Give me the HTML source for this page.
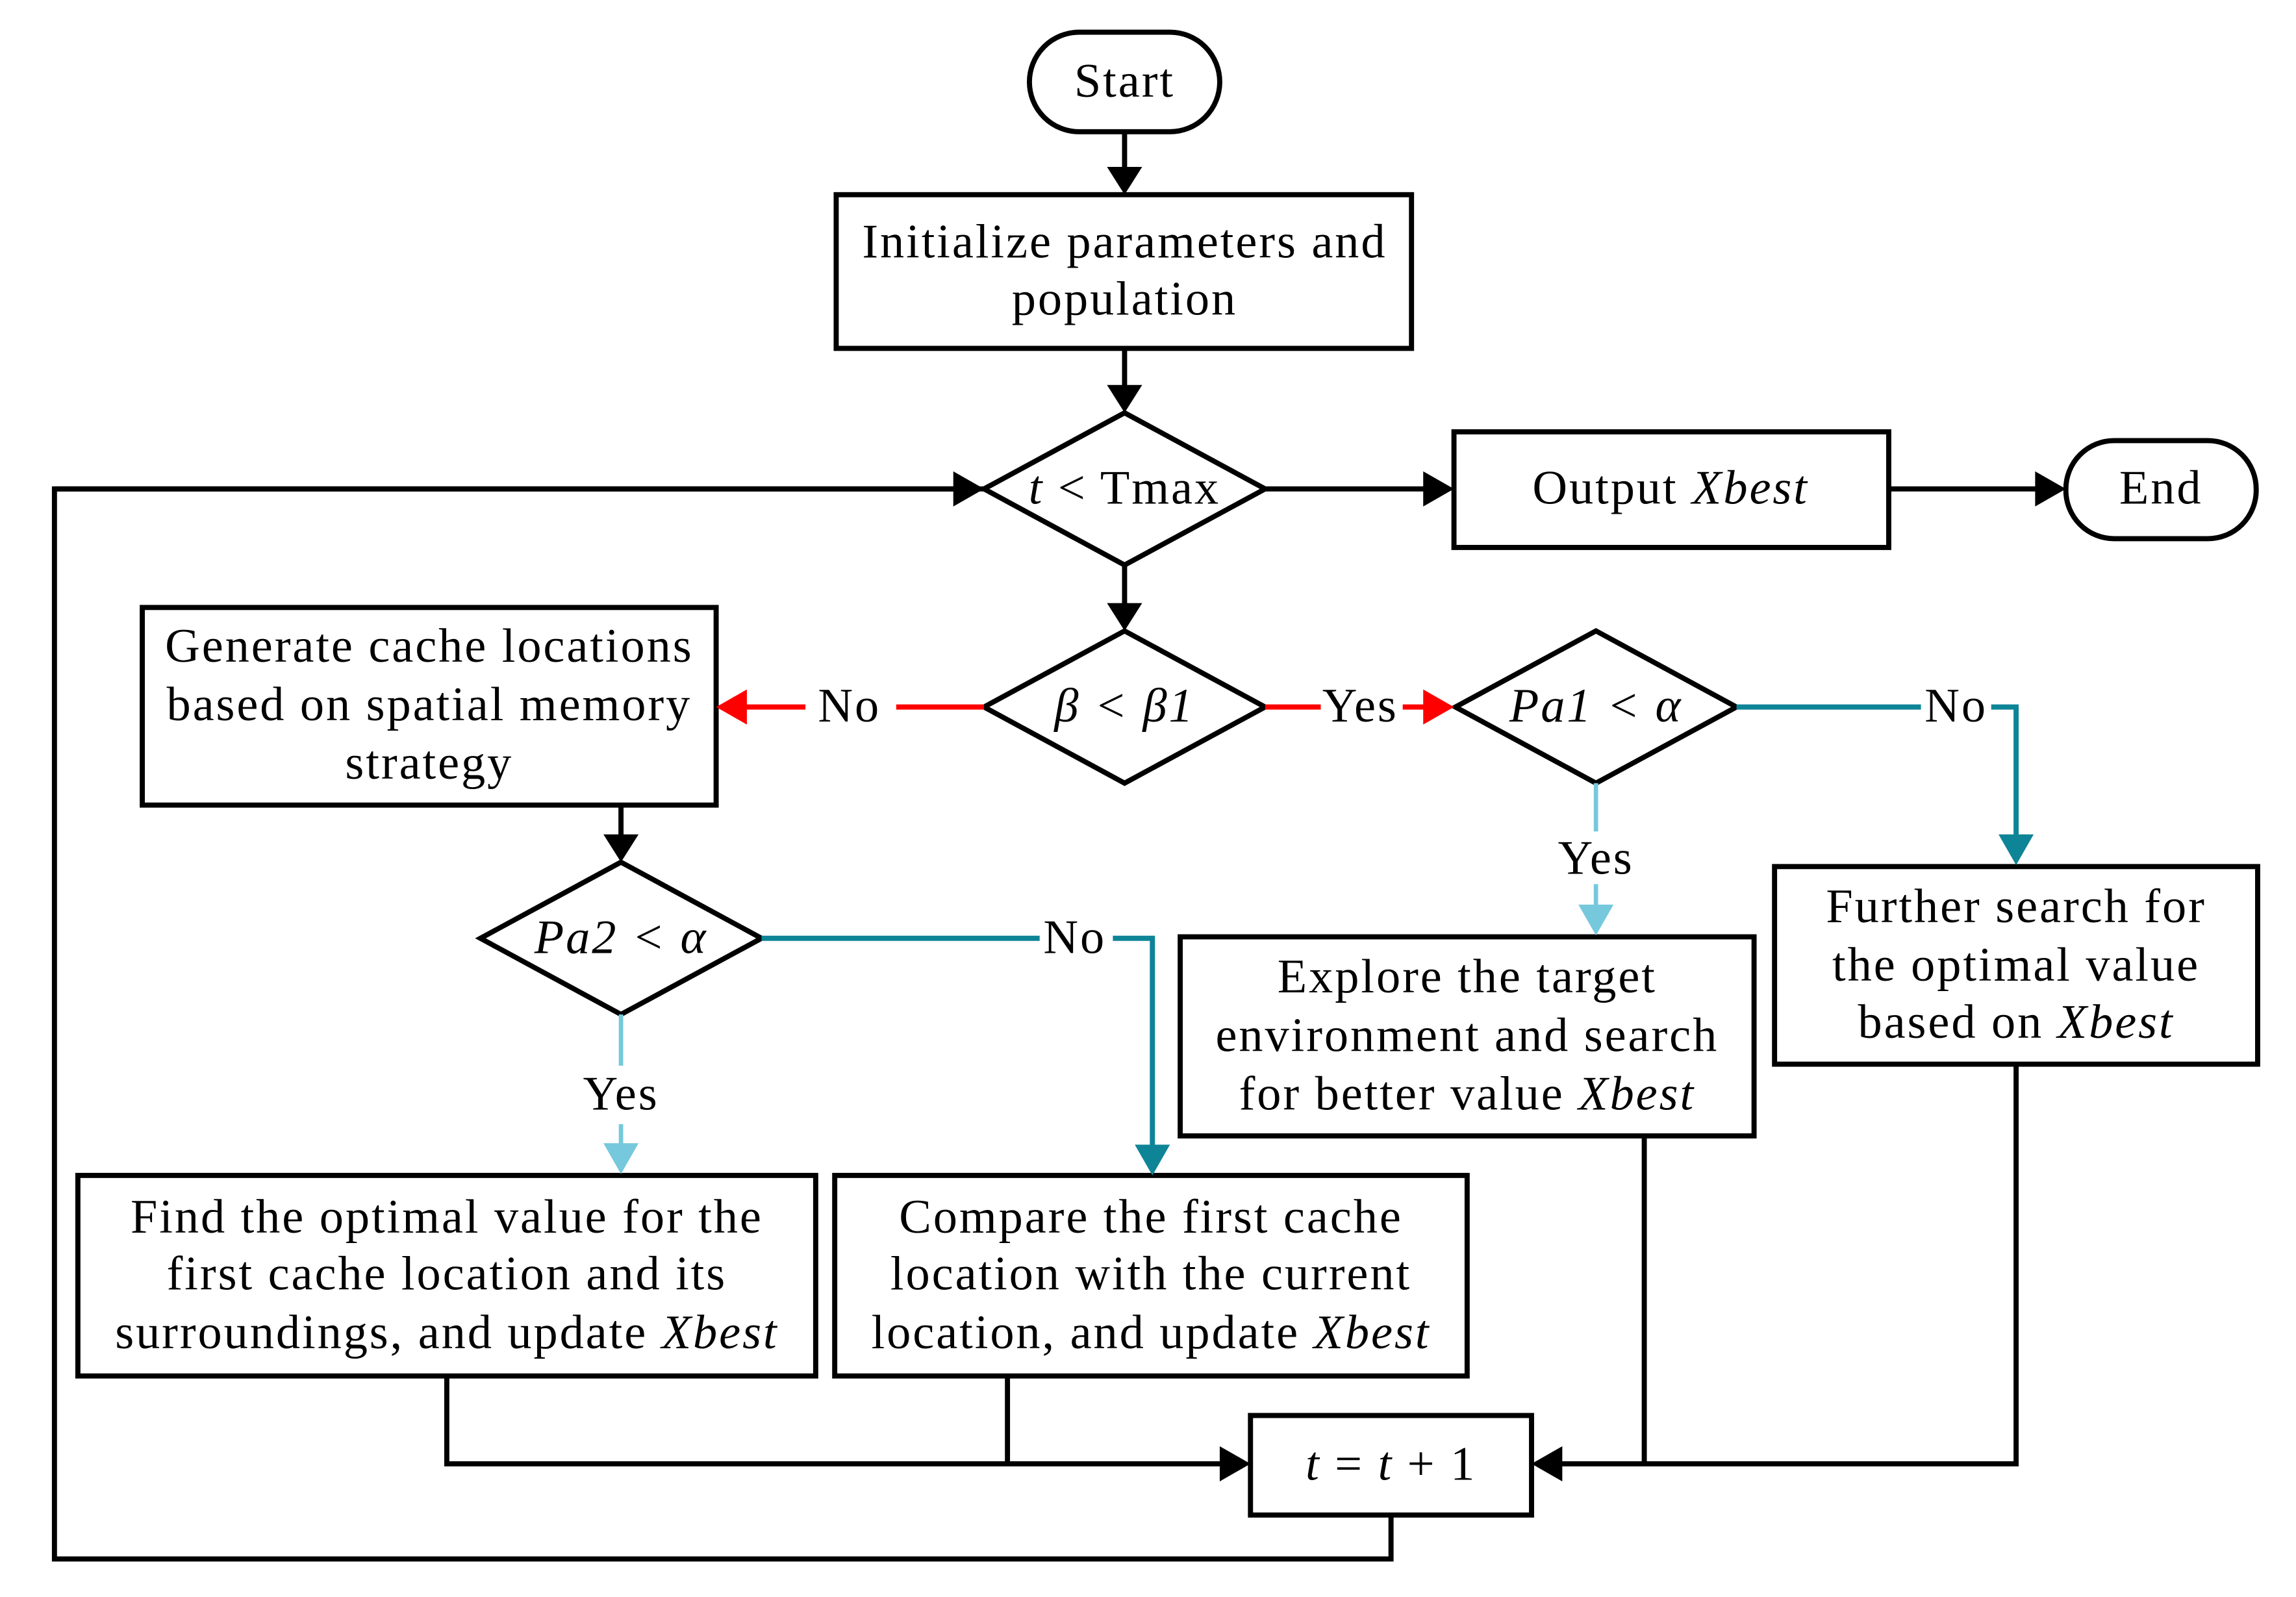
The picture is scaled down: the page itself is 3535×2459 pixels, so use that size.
<!DOCTYPE html>
<html><head><meta charset="utf-8"><style>
html,body{margin:0;padding:0;background:#fff;}
svg{display:block;}
text{font-family:"Liberation Serif",serif;font-size:33px;letter-spacing:1.3px;fill:#000;}
.it{font-style:italic;}
</style></head><body>
<svg width="3535" height="2459" viewBox="0 0 1568 1091" xmlns="http://www.w3.org/2000/svg">
<g fill="none" stroke="#000" stroke-width="3.5">
<rect x="703" y="22" width="130" height="68" rx="34"/>
<rect x="571" y="133" width="393" height="105"/>
<polygon points="768,282 864,334 768,386 672,334"/>
<rect x="993" y="295" width="297" height="79"/>
<rect x="1411" y="301" width="130" height="67" rx="33"/>
<polygon points="768,431 864,483 768,535 672,483"/>
<rect x="97" y="415" width="392" height="135"/>
<polygon points="1090,431 1186,483 1090,535 994,483"/>
<rect x="1212" y="592" width="330" height="135"/>
<rect x="806" y="640" width="392" height="136"/>
<polygon points="424,589 520,641 424,693 328,641"/>
<rect x="53" y="803" width="504" height="137"/>
<rect x="570" y="803" width="432" height="137"/>
<rect x="854" y="967" width="192" height="68"/>
<path d="M768,90 V116"/><path d="M768,238 V265"/><path d="M768,386 V414"/>
<path d="M864,334 H975"/><path d="M1290,334 H1393"/>
<path d="M672,334 H37 V1065 H950 V1035"/>
<path d="M37,334 H655"/>
<path d="M424,550 V572"/>
<path d="M305,940 V1000 H836"/><path d="M688,940 V1000"/>
<path d="M1377,727 V1000 H1064"/><path d="M1123,776 V1000"/>
<path d="M672,483 H612 M550,483 H507" stroke="#f00"/>
<path d="M864,483 H902 M958,483 H975" stroke="#f00"/>
<path d="M1186,483 H1312 M1360,483 H1377 V572" stroke="#0e8497"/>
<path d="M520,641 H710 M760,641 H787 V784" stroke="#0e8497"/>
<path d="M1090,535 V568 M1090,604 V622" stroke="#76c9dc" stroke-width="3"/>
<path d="M424,693 V728 M424,768 V784" stroke="#76c9dc" stroke-width="3"/>
</g>
<g>
<path d="M756,114 L780,114 L768,133 z"/><path d="M756,263 L780,263 L768,282 z"/><path d="M756,412 L780,412 L768,431 z"/>
<path d="M972,322 L972,346 L993,334 z"/><path d="M1390,322 L1390,346 L1411,334 z"/>
<path d="M651,322 L651,346 L672,334 z"/>
<path d="M412,570 L436,570 L424,589 z"/>
<path d="M833,988 L833,1012 L854,1000 z"/><path d="M1067,988 L1067,1012 L1046,1000 z"/>
<path d="M510,471 L510,495 L489,483 z" fill="#f00"/>
<path d="M972,471 L972,495 L993,483 z" fill="#f00"/>
<path d="M1365,570 L1389,570 L1377,591 z" fill="#0e8497"/>
<path d="M775,782 L799,782 L787,803 z" fill="#0e8497"/>
<path d="M1078,618 L1102,618 L1090,639 z" fill="#76c9dc"/>
<path d="M412,781 L436,781 L424,802 z" fill="#76c9dc"/>
</g>
<g text-anchor="middle">
<text x="768" y="66">Start</text>
<text x="768" y="176">Initialize parameters and</text>
<text x="768" y="215">population</text>
<text x="768" y="344"><tspan class="it">t</tspan> &lt; Tmax</text>
<text x="1141" y="344">Output <tspan class="it">Xbest</tspan></text>
<text x="1476" y="344">End</text>
<text x="768" y="493" class="it">β &lt; β1</text>
<text x="1090" y="493" class="it">Pa1 &lt; α</text>
<text x="580" y="493">No</text>
<text x="929" y="493">Yes</text>
<text x="1336" y="493">No</text>
<text x="1090" y="597">Yes</text>
<text x="293" y="452">Generate cache locations</text>
<text x="293" y="492">based on spatial memory</text>
<text x="293" y="532">strategy</text>
<text x="424" y="651" class="it">Pa2 &lt; α</text>
<text x="734" y="651">No</text>
<text x="424" y="758">Yes</text>
<text x="1377" y="630">Further search for</text>
<text x="1377" y="670">the optimal value</text>
<text x="1377" y="709">based on <tspan class="it">Xbest</tspan></text>
<text x="1002" y="678">Explore the target</text>
<text x="1002" y="718">environment and search</text>
<text x="1002" y="758">for better value <tspan class="it">Xbest</tspan></text>
<text x="305" y="842">Find the optimal value for the</text>
<text x="305" y="881">first cache location and its</text>
<text x="305" y="921">surroundings, and update <tspan class="it">Xbest</tspan></text>
<text x="786" y="842">Compare the first cache</text>
<text x="786" y="881">location with the current</text>
<text x="786" y="921">location, and update <tspan class="it">Xbest</tspan></text>
<text x="950" y="1011"><tspan class="it">t</tspan> = <tspan class="it">t</tspan> + 1</text>
</g>
</svg>
</body></html>
